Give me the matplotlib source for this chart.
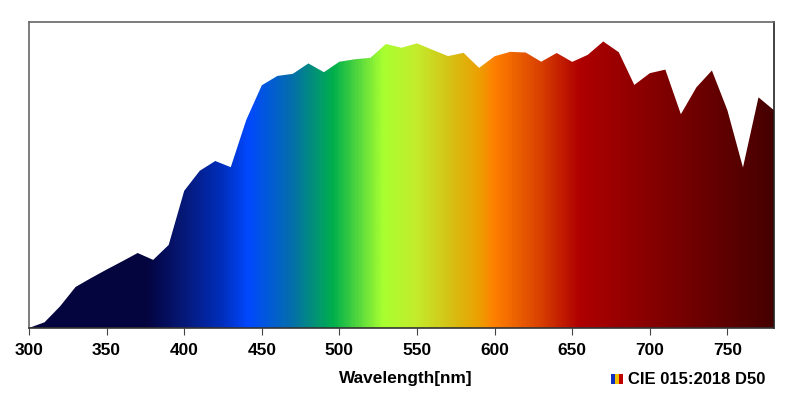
import numpy as np
import matplotlib
matplotlib.use("Agg")
import matplotlib.pyplot as plt
from matplotlib.colors import LinearSegmentedColormap

plt.rcParams['font.family'] = ['Liberation Sans', 'DejaVu Sans']

wavelength = list(range(300, 790, 10))
d50 = [0.02, 2.05, 7.78, 14.75, 17.95, 21.01, 23.94, 26.96, 24.49, 29.87,
       49.31, 56.51, 60.03, 57.82, 74.82, 87.25, 90.61, 91.37, 95.11, 91.96,
       95.72, 96.61, 97.13, 102.10, 100.75, 102.32, 100.00, 97.74, 98.92, 93.50,
       97.69, 99.27, 99.04, 95.72, 98.86, 95.67, 98.19, 103.00, 99.13, 87.38,
       91.60, 92.89, 76.85, 86.51, 92.58, 78.23, 57.69, 82.92, 78.27]
x_ticks = [300, 350, 400, 450, 500, 550, 600, 650, 700, 750]
x_label = "Wavelength[nm]"
legend_label = "CIE 015:2018 D50"

# spectral colour stops (wavelength, colour)
stops = [(300, '#05053f'), (375, '#04043f'), (400, '#06197a'), (425, '#0030c0'),
         (441, '#0048ff'), (470, '#0470a8'), (496, '#00b04c'), (528, '#a8ff30'),
         (550, '#c4ec2c'), (572, '#d6c014'), (590, '#eca000'), (600, '#ff8000'),
         (630, '#d84000'), (655, '#b00000'), (700, '#880000'), (750, '#5e0000'),
         (780, '#460000')]
cmap = LinearSegmentedColormap.from_list(
    'spec', [((w - 300) / 480, c) for w, c in stops])

fig = plt.figure(figsize=(8, 4.09), dpi=100)
ax = fig.add_axes([29/800, (409-328)/409, (774-29)/800, (328-22)/409])

ymax = 110
poly = ax.fill_between(wavelength, 0, d50, color='none', lw=0)
grad = np.linspace(0, 1, 960).reshape(1, -1)
im = ax.imshow(grad, extent=[300, 780, 0, ymax], aspect='auto', cmap=cmap,
               origin='lower', interpolation='bilinear', zorder=1)
path = poly.get_paths()[0]
im.set_clip_path(path, transform=ax.transData)

ax.set_xlim(300, 780)
ax.set_ylim(0, ymax)
ax.set_yticks([])
ax.set_xticks(x_ticks)
ax.set_xticklabels([str(t) for t in x_ticks], fontsize=12.5, fontweight='bold')
ax.tick_params(axis='x', direction='out', length=5, color='#444444', pad=6)
for s in ax.spines.values():
    s.set_color('#666666')
    s.set_linewidth(1.2)
ax.spines['right'].set_color('#222222')
ax.spines['bottom'].set_color('#333333')

fig.text(406/800, 1 - 379/409, x_label, ha='center', va='center',
         fontsize=12.4, fontweight='bold')
fig.text(628/800, 1 - 379/409, legend_label, ha='left', va='center',
         fontsize=12, fontweight='bold')
# small rainbow legend icon
ic = fig.add_axes([611/800, 1 - 384/409, 12/800, 10/409])
ic.imshow(np.linspace(0.25, 0.85, 3).reshape(1, -1),
          cmap=LinearSegmentedColormap.from_list('ic', ['#1030c0', '#f0c000', '#c00000']),
          aspect='auto')
ic.axis('off')

fig.savefig('out.png', dpi=100)
